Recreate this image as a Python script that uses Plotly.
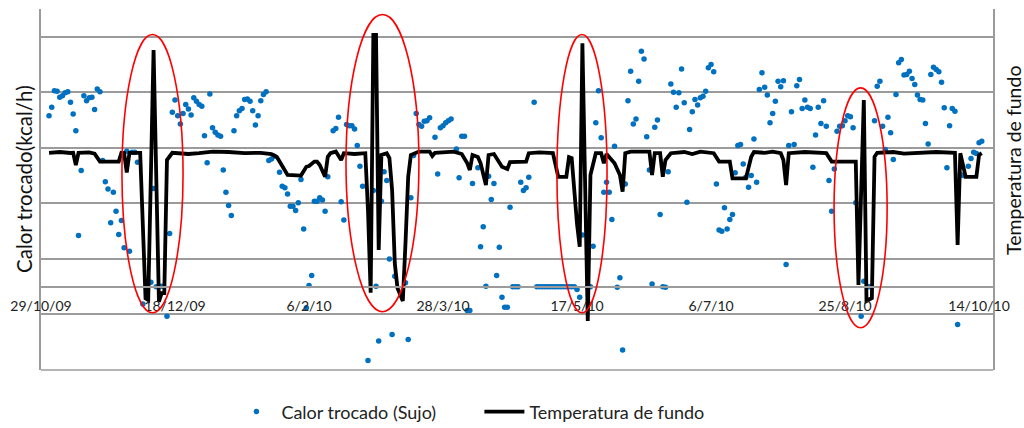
import pandas as pd
import plotly.graph_objects as go

# ---------------- data ----------------
inicio = pd.Timestamp("2009-10-29")

# Calor trocado (Sujo): day offset from 29/10/09 and value (kcal/h)
calor_dia = [3, 4, 5, 6, 7, 8, 9, 10, 11, 12, 13, 14, 15, 16, 17, 18, 19, 20, 21, 22,
             23, 24, 25, 26, 27, 28, 29, 30, 31, 32, 33, 34, 35, 36, 38, 41, 42, 43, 45, 47,
             48, 49, 50, 51, 52, 53, 54, 55, 56, 57, 58, 59, 60, 61, 62, 63, 64, 65, 66, 67,
             68, 69, 70, 71, 72, 73, 74, 75, 76, 77, 78, 79, 80, 81, 82, 83, 84, 85, 86, 87,
             89, 90, 91, 92, 93, 94, 95, 96, 97, 98, 99, 100, 101, 102, 103, 104, 105, 106, 107, 109,
             110, 111, 112, 113, 114, 115, 116, 117, 118, 119, 120, 122, 124, 125, 126, 127, 128, 129, 130, 131,
             132, 136, 137, 138, 139, 140, 141, 142, 143, 144, 145, 147, 148, 149, 150, 151, 152, 153, 155, 156,
             157, 158, 159, 160, 161, 163, 164, 165, 166, 167, 168, 169, 170, 171, 172, 173, 174, 175, 176, 177,
             178, 179, 180, 181, 182, 184, 185, 186, 187, 188, 189, 190, 191, 192, 193, 194, 195, 196, 197, 198,
             199, 200, 201, 202, 204, 205, 206, 207, 208, 209, 210, 211, 212, 213, 214, 215, 216, 217, 218, 219,
             220, 221, 222, 223, 224, 225, 226, 227, 228, 229, 230, 231, 232, 233, 234, 235, 236, 237, 238, 239,
             240, 241, 242, 243, 244, 245, 246, 247, 248, 249, 250, 251, 252, 253, 254, 255, 256, 257, 258, 259,
             260, 261, 262, 263, 264, 265, 266, 267, 268, 269, 270, 271, 272, 273, 274, 275, 276, 277, 278, 279,
             280, 281, 282, 283, 284, 285, 286, 287, 288, 289, 290, 291, 292, 293, 294, 295, 296, 297, 298, 299,
             300, 301, 302, 303, 304, 306, 307, 309, 311, 312, 313, 314, 315, 316, 317, 318, 319, 320, 321, 322,
             323, 324, 325, 326, 327, 328, 329, 330, 331, 332, 333, 334, 335, 336, 337, 338, 339, 340, 341, 342,
             343, 344, 346, 347, 348, 349, 350, 351]
calor_valor = [3080, 3230, 3530, 3520, 3410, 3440, 3490, 3510, 3320, 3110, 2810, 920, 2090, 3440, 3350, 3400, 3410, 3190, 3560, 3510,
               2270, 1890, 1760, 1150, 1700, 1360, 940, 1190, 700, 2440, 640, 2420, 2420, 2240, -310, 80, 1770, 0, 10, -530,
               960, 3140, 3360, 3080, 2930, 3120, 3280, 3200, 3090, 3400, 3340, 3280, 3250, 2720, 2230, 3470, 2860, 2780, 2730, 2710,
               2100, 1700, 1460, 1280, 2810, 3080, 3170, 3210, 3370, 3380, 3340, 3170, 2910, 3080, 3350, 3460, 3510, 2270, 2300, 2350,
               2060, 1810, 1780, 1670, 1450, 1450, 1370, 1510, 1930, 1040, -380, 20, 200, 1540, 1540, 1600, 1560, 1360, 1980, 2810,
               2850, 3050, 1530, 1200, 2920, 2900, 2900, 2840, 2540, 2170, 1810, -1330, 1730, 10, -980, 1540, 2070, 1910, 500, -860,
               190, 70, -950, 1600, 2360, 3120, 2920, 2890, 2980, 2990, 3040, 2690, 2030, 2860, 2900, 2950, 2990, 3020, 2480, 1960,
               2710, 2710, -430, -430, 1860, 2140, 720, 1080, 10, 1990, 1570, 1860, 200, 710, -190, -370, -370, 1430, 0, 0,
               0, 1880, 1730, 1780, 1970, 3320, 0, 0, 0, 0, 0, 0, 0, 0, 0, 0, 0, 0, 0, 0,
               0, -50, -190, 930, 0, 0, 730, 2950, 3530, 2680, 1700, 1880, 1700, 1210, 2530, -10, 160, -1140, 1850, 3350,
               3880, 2930, 3020, 3700, 4240, 4100, 2700, 2100, 50, 2870, 3000, 1300, 0, -10, 2070, 3650, 3500, 3230, 3490, 3920,
               3310, 1520, 2830, 3150, 3370, 3270, 3400, 3430, 3520, 3940, 4000, 3870, 1850, 1020, 1000, 1420, 1040, 1210, 1300, 2050,
               2540, 2560, 2210, 1970, 1790, 2000, 2660, 1880, 3550, 3850, 3590, 3450, 2950, 3120, 3340, 3700, 3600, 3710, 400, 2540,
               3150, 2560, 3620, 3730, 3210, 3360, 3230, 3210, 2150, 2730, 3230, 2940, 3350, 2890, 1910, 1360, 2120, 2800, 2890, 2900,
               2990, 3080, 3060, 2860, 1510, -530, 100, 0, 2990, 3610, 3700, 2890, 2470, 3050, 2770, 2290, 3460, 4030, 4090, 3810,
               3820, 3880, 3750, 3640, 3450, 3370, 3360, 2940, 2570, 3820, 3950, 3910, 3870, 3680, 3220, 2140, 2900, 3210, 3160, -680,
               2020, 2000, 2170, 2310, 2420, 2400, 2590, 2620]

# Temperatura de fundo (secondary axis)
temp_dia = [3, 7, 11, 12, 13, 14, 18, 20, 22, 29, 30, 31, 32, 33, 37, 39, 40, 42, 44, 45,
            46, 47, 49, 55, 59, 64, 70, 76, 82, 86, 88, 92, 97, 99, 100, 102, 103, 104, 106, 107,
            108, 110, 112, 113, 117, 121, 122, 123, 124, 125, 126, 127, 129, 130, 131, 132, 133, 135, 136, 137,
            138, 141, 145, 146, 147, 150, 154, 157, 159, 160, 161, 163, 164, 166, 167, 169, 171, 172, 174, 175,
            181, 182, 186, 191, 193, 196, 197, 198, 200, 201, 202, 204, 205, 207, 209, 210, 211, 214, 216, 217,
            218, 220, 227, 228, 229, 231, 232, 233, 235, 240, 243, 246, 251, 253, 257, 258, 263, 265, 266, 270,
            273, 276, 277, 278, 279, 285, 293, 295, 304, 305, 307, 308, 310, 311, 312, 318, 322, 328, 334, 341,
            342, 343, 344, 345, 349, 350, 351]
temp_valor = [54.3, 54.5, 54.25, 54.3, 51.25, 54.3, 54.4, 54.1, 52.1, 52.1, 54.3, 54.25, 49.4, 54.3, 54.3, 17.9, 17.5, 80.0, 17.1, 19.2,
              19.2, 52.5, 54.3, 54.0, 54.2, 54.6, 54.5, 54.2, 54.3, 54.0, 53.25, 48.75, 48.6, 50.8, 51.0, 52.1, 52.1, 51.25, 48.3, 53.3,
              54.2, 54.6, 52.5, 54.2, 54.0, 54.2, 40.0, 19.3, 83.75, 83.75, 30.0, 53.75, 54.2, 53.0, 45.0, 26.75, 20.5, 17.25, 31.75, 48.3,
              53.75, 54.6, 54.6, 53.5, 54.3, 54.5, 54.6, 54.0, 51.75, 50.0, 53.75, 53.25, 51.75, 46.25, 53.75, 54.0, 52.0, 50.8, 50.25, 52.0,
              52.1, 54.2, 54.4, 54.25, 48.3, 48.3, 53.25, 53.0, 36.5, 30.8, 81.7, 12.25, 48.75, 54.2, 54.2, 51.7, 54.0, 51.7, 48.75, 44.6,
              54.2, 54.6, 54.6, 48.75, 54.2, 54.2, 48.3, 52.5, 54.2, 54.5, 54.0, 54.6, 54.2, 52.1, 52.1, 47.9, 47.9, 53.3, 54.5, 54.3,
              54.6, 54.2, 52.5, 46.25, 54.2, 54.5, 54.2, 52.1, 52.1, 21.25, 67.5, 17.25, 18.0, 53.3, 54.3, 54.5, 54.1, 54.3, 54.5, 54.3,
              31.25, 54.2, 50.8, 48.3, 48.3, 53.75, 54.2]

# x-axis tick labels
tick_rotulos = ["29/10/09", "18/12/09", "6/2/10", "28/3/10", "17/5/10", "6/7/10", "25/8/10", "14/10/10"]
tick_datas = ["2009-10-29", "2009-12-18", "2010-02-06", "2010-03-28", "2010-05-17", "2010-07-06", "2010-08-25", "2010-10-14"]

# highlighted regions (red ellipses): day start, day end, value low, value high
destaques = [(30.2, 53.0, -470, 4540), (113.8, 141.0, -450, 4900),
             (192.5, 211.2, -470, 4540), (295.9, 315.7, -740, 3580)]

# ---------------- figure ----------------
dias = lambda d: inicio + pd.to_timedelta(d, unit="D")
x_calor = dias(calor_dia)
x_temp = dias(temp_dia)

FONT = "Lato"
GRID = "#9b9b9b"

fig = go.Figure()
fig.add_trace(go.Scatter(x=x_calor, y=calor_valor, mode="markers", name="Calor trocado (Sujo)",
                         marker=dict(color="#0070C0", size=5.5), yaxis="y"))
fig.add_trace(go.Scatter(x=x_temp, y=temp_valor, mode="lines", name="Temperatura de fundo",
                         line=dict(color="black", width=3.8), yaxis="y2"))

shapes = []
for d0, d1, v0, v1 in destaques:
    shapes.append(dict(type="circle", xref="x", yref="y", x0=dias(d0), x1=dias(d1), y0=v0, y1=v1,
                       line=dict(color="#ff0000", width=1.6), layer="above"))
shapes.append(dict(type="line", xref="paper", yref="paper", x0=0, x1=1, y0=0, y1=0,
                   line=dict(color=GRID, width=1.5), layer="below"))

fig.update_layout(
    width=1024, height=428, autosize=False,
    margin=dict(l=41, r=31, t=9, b=58, autoexpand=False),
    paper_bgcolor="white", plot_bgcolor="white",
    font=dict(family=FONT, color="#222222"),
    showlegend=True,
    legend=dict(orientation="h", x=0.2, xanchor="left", y=-0.116, yanchor="middle",
                font=dict(family=FONT, size=18, color="#222222"), itemwidth=40,
                entrywidth=193, entrywidthmode="pixels",
                bgcolor="rgba(0,0,0,0)"),
    xaxis=dict(type="date", range=[inicio, dias(355.2)], tickvals=tick_datas, ticktext=tick_rotulos,
               showgrid=False, zeroline=False, showline=True, linecolor=GRID, linewidth=1.5,
               anchor="free", position=(1500 / 6500), ticks="", ticklabelstandoff=7,
               tickfont=dict(family=FONT, size=14, color="#222222")),
    yaxis=dict(range=[-1500, 5000], tick0=-1500, dtick=1000, showticklabels=False, ticks="",
               showgrid=True, gridcolor=GRID, gridwidth=1.5, zeroline=False,
               showline=True, linecolor=GRID, linewidth=2),
    yaxis2=dict(range=[0, 90.25], overlaying="y", side="right", showgrid=False, showticklabels=False,
                ticks="", zeroline=False, showline=True, linecolor=GRID, linewidth=2),
    shapes=shapes,
    annotations=[
        dict(text="Calor trocado(kcal/h)", xref="paper", yref="paper", x=-17 / 952, y=(370 - 179) / 361,
             xanchor="center", yanchor="middle", textangle=-90, showarrow=False,
             font=dict(family=FONT, size=20.5, color="#111111")),
        dict(text="Temperatura de fundo", xref="paper", yref="paper", x=(1013 - 41) / 952, y=(370 - 160) / 361,
             xanchor="center", yanchor="middle", textangle=-90, showarrow=False,
             font=dict(family=FONT, size=19.5, color="#111111")),
    ],
)

fig.write_html("out.html")
